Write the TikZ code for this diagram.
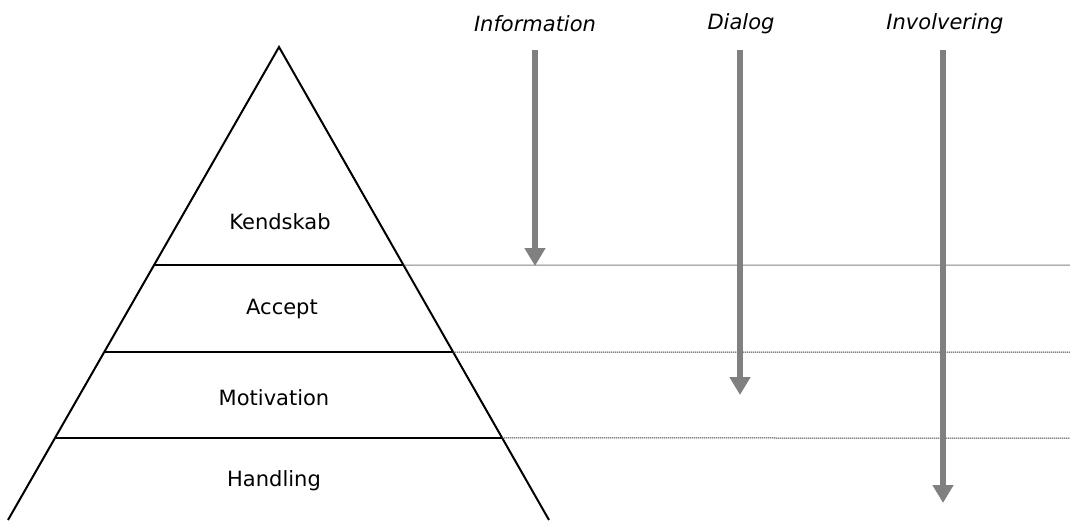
\documentclass[tikz,border=0pt]{standalone}
\usepackage{fontspec}
\setmainfont{DejaVu Sans}
\usetikzlibrary{arrows.meta,calc}
\begin{document}
\begin{tikzpicture}[x=1pt,y=-1pt,
  side/.style={line width=2pt,black},
  level/.style={line width=2pt,black},
  guide/.style={line width=1pt,black!75,dash pattern=on 1.2pt off 0.8pt},
  flow/.style={line width=6pt,color=gray,-{Triangle[width=20pt,length=18pt]}},
  lvl/.style={font=\fontsize{21}{25}\selectfont},
  head/.style={font=\fontsize{21}{25}\selectfont\itshape}]
\useasboundingbox (0,0) rectangle (1070,520);
\coordinate (apex) at (279,47);
\coordinate (bl) at (8,520);
\coordinate (br) at (549,520);
\draw[side] (bl) -- (apex) -- (br);
\coordinate (l1) at ($(apex)!0.4609!(bl)$);
\coordinate (r1) at ($(apex)!0.4609!(br)$);
\coordinate (l2) at ($(apex)!0.6448!(bl)$);
\coordinate (r2) at ($(apex)!0.6448!(br)$);
\coordinate (l3) at ($(apex)!0.8266!(bl)$);
\coordinate (r3) at ($(apex)!0.8266!(br)$);
\draw[level] (l1) -- (r1);
\draw[level] (l2) -- (r2);
\draw[level] (l3) -- (r3);
\coordinate (e1) at (1070,265);
\coordinate (e2) at (1070,352);
\coordinate (e3) at (1070,438);
\draw[guide] (r1) -- (e1);
\draw[guide] (r2) -- (e2);
\draw[guide] (r3) -- (e3);
\node[lvl] (kend) at (280,222) {Kendskab};
\node[lvl] (acc) at (282,309) {Accept};
\node[lvl] (mot) at (274,398) {Motivation};
\node[lvl] (hand) at (274,481) {Handling};
\node[head] (info) at (535,24) {Information};
\node[head] (dial) at (741,24) {Dialog};
\node[head] (invo) at (945,24) {Involvering};
\coordinate (is) at (535,50);
\coordinate (ie) at (535,266);
\coordinate (ds) at (740,50);
\coordinate (de) at (740,395);
\coordinate (vs) at (943,50);
\coordinate (ve) at (943,503);
\draw[flow] (is) -- (ie);
\draw[flow] (ds) -- (de);
\draw[flow] (vs) -- (ve);
\end{tikzpicture}
\end{document}
